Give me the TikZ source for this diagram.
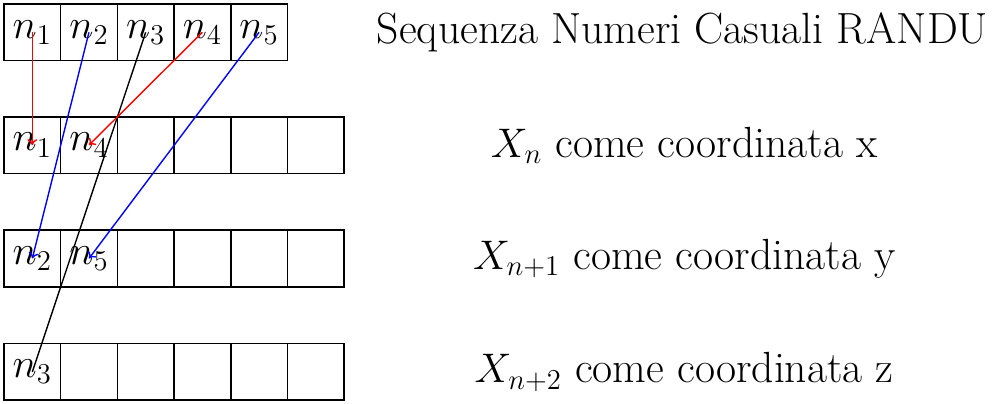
\documentclass[tikz,border=0pt]{standalone}
\usetikzlibrary{arrows.meta}
\begin{document}
\begin{tikzpicture}[x=1cm,y=1cm,
  cell/.style={draw, line width=0.8pt, minimum width=1cm, minimum height=1cm, inner sep=0pt, outer sep=0pt, font=\fontsize{21.9}{26}\selectfont},
  lbl/.style={font=\fontsize{21.9}{26}\selectfont, inner sep=0pt},
  con/.style={line width=0.7pt, -{To[length=3pt,width=5pt]}}]
\useasboundingbox (0,0) rectangle (17.5,-7.125);
% top row
\foreach \i in {1,...,5} {
  \node[cell] (t\i) at ({0.07+\i-0.5},-0.57) {$n_{\i}$};
}
% row x
\node[cell] (a1) at (0.57,-2.56) {$n_1$};
\node[cell] (a2) at (1.57,-2.56) {$n_4$};
\foreach \i in {3,...,6} { \node[cell] (a\i) at ({0.07+\i-0.5},-2.56) {}; }
% row y
\node[cell] (b1) at (0.57,-4.56) {$n_2$};
\node[cell] (b2) at (1.57,-4.56) {$n_5$};
\foreach \i in {3,...,6} { \node[cell] (b\i) at ({0.07+\i-0.5},-4.56) {}; }
% row z
\node[cell] (c1) at (0.57,-6.56) {$n_3$};
\foreach \i in {2,...,6} { \node[cell] (c\i) at ({0.07+\i-0.5},-6.56) {}; }
% labels
\node[lbl] (l0) at (12.04,-0.57) {Sequenza Numeri Casuali RANDU};
\node[lbl] (l1) at (12.07,-2.56) {$X_n$ come coordinata x};
\node[lbl] (l2) at (12.07,-4.56) {$X_{n+1}$ come coordinata y};
\node[lbl] (l3) at (12.07,-6.56) {$X_{n+2}$ come coordinata z};
% connectors
\draw[con, red] (t1.center) -- (a1.center);
\draw[con, blue] (t2.center) -- (b1.center);
\draw[line width=0.7pt, black] (t3.center) -- (c1.center);
\draw[con, red] (t4.center) -- (a2.center);
\draw[con, blue] (t5.center) -- (b2.center);
\end{tikzpicture}
\end{document}
